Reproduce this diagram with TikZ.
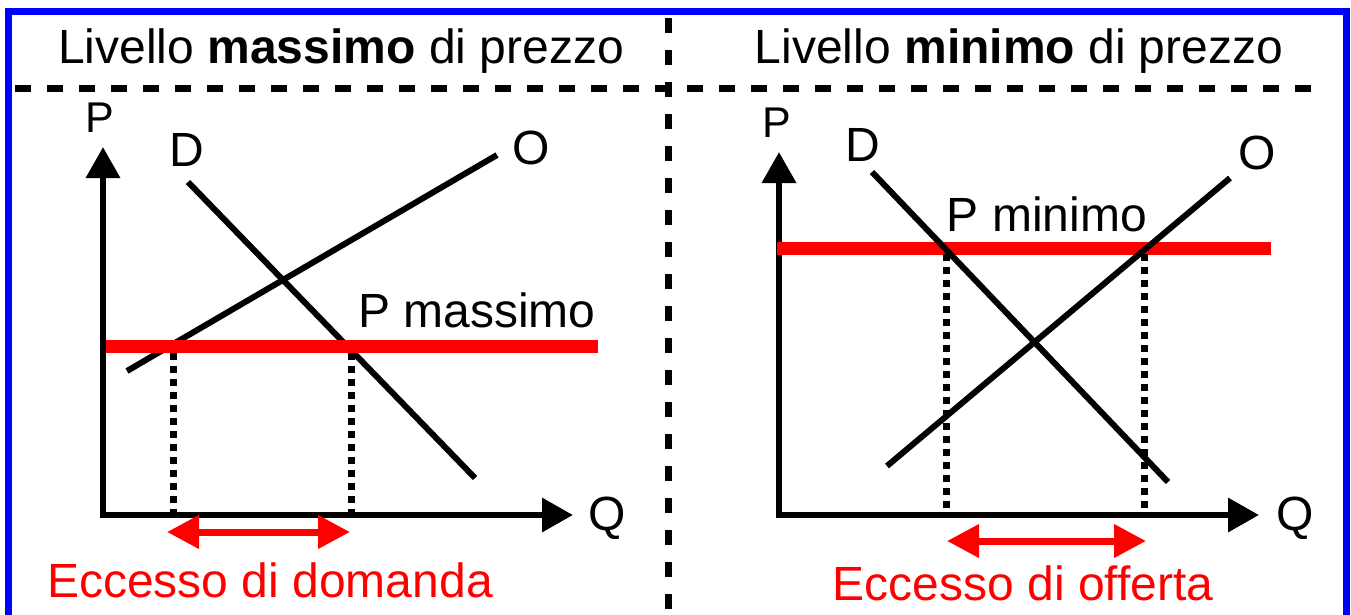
\documentclass[tikz,border=0pt]{standalone}
\usepackage{fontspec}
\setmainfont{Liberation Sans}
\usetikzlibrary{arrows.meta}
\begin{document}
\begin{tikzpicture}[x=1pt,y=-1pt,
  frame/.style={blue,line width=7pt,line join=miter},
  divider/.style={line width=7pt,dash pattern=on 16pt off 16pt},
  axis/.style={line width=6.5pt,line join=miter,{Triangle[length=31pt,width=33pt]}-{Triangle[length=31pt,width=33pt]}},
  curve/.style={line width=6pt},
  priceline/.style={red,line width=13pt},
  guide/.style={line width=7pt,dash pattern=on 7pt off 6pt},
  excess/.style={red,line width=7pt,{Triangle[length=32pt,width=32pt]}-{Triangle[length=32pt,width=32pt]}},
  lbl/.style={inner sep=0pt,anchor=base,font=\fontsize{48}{48}\selectfont},
  axlbl/.style={inner sep=0pt,anchor=base,font=\fontsize{43}{43}\selectfont},
  redlbl/.style={lbl,text=red}]
\useasboundingbox (0,0) rectangle (1351,614);
% frame
\draw[frame] (8.5,630) -- (8.5,11) -- (1346,11) -- (1346,630);
% dividers
\coordinate (hl) at (15,88);
\coordinate (hr) at (1312,88);
\coordinate (vt) at (668,18);
\coordinate (vb) at (668,614);
\draw[divider] (hl) -- (hr);
\draw[divider,dash pattern=on 15pt off 17pt] (vt) -- (vb);
% titles
\node[lbl] (t1) at (341,63) {Livello \textbf{massimo} di prezzo};
\node[lbl] (t2) at (1019,63) {Livello \textbf{minimo} di prezzo};

% ---------- left panel ----------
\coordinate (Ly) at (103,147);
\coordinate (Lo) at (103,515);
\coordinate (Lx) at (573,515);
\draw[axis] (Ly) -- (Lo) -- (Lx);
\node[axlbl] (LP) at (100,132) {P};
\node[lbl] (LQ) at (607,530) {Q};
\coordinate (LD1) at (188,182);
\coordinate (LD2) at (475,478);
\coordinate (LO1) at (127,371);
\coordinate (LO2) at (497,155);
\draw[curve] (LD1) -- (LD2);
\draw[curve] (LO1) -- (LO2);
\node[lbl] (LDl) at (187,166) {D};
\node[lbl] (LOl) at (531,164) {O};
\coordinate (Lp1) at (106,346);
\coordinate (Lp2) at (598,346);
\draw[priceline] (Lp1) -- (Lp2);
\node[lbl] (Lpm) at (477,327) {P massimo};
\coordinate (Lg1t) at (173,353);
\coordinate (Lg1b) at (173,515);
\coordinate (Lg2t) at (351,353);
\coordinate (Lg2b) at (351,515);
\draw[guide] (Lg1t) -- (Lg1b);
\draw[guide] (Lg2t) -- (Lg2b);
\coordinate (La1) at (167,532);
\coordinate (La2) at (350,532);
\draw[excess] (La1) -- (La2);
\node[redlbl] (Lex) at (270,597) {Eccesso di domanda};

% ---------- right panel ----------
\coordinate (Ry) at (779,152);
\coordinate (Ro) at (779,515);
\coordinate (Rx) at (1259,515);
\draw[axis] (Ry) -- (Ro) -- (Rx);
\node[axlbl] (RP) at (777,137) {P};
\node[lbl] (RQ) at (1295,530) {Q};
\coordinate (Rp1) at (777,248);
\coordinate (Rp2) at (1271,248);
\draw[priceline] (Rp1) -- (Rp2);
\node[lbl] (Rpm) at (1047,231) {P minimo};
\coordinate (RD1) at (872,172);
\coordinate (RD2) at (1168,482);
\coordinate (RO1) at (887,466);
\coordinate (RO2) at (1230,178);
\coordinate (Rg1t) at (946,254);
\coordinate (Rg1b) at (946,515);
\coordinate (Rg2t) at (1144,254);
\coordinate (Rg2b) at (1144,515);
\draw[guide] (Rg1t) -- (Rg1b);
\draw[guide] (Rg2t) -- (Rg2b);
\draw[curve] (RD1) -- (RD2);
\draw[curve] (RO1) -- (RO2);
\node[lbl] (RDl) at (863,161) {D};
\node[lbl] (ROl) at (1257,169) {O};
\coordinate (Ra1) at (947,541);
\coordinate (Ra2) at (1146,541);
\draw[excess] (Ra1) -- (Ra2);
\node[redlbl] (Rex) at (1023,600) {Eccesso di offerta};
\end{tikzpicture}
\end{document}
